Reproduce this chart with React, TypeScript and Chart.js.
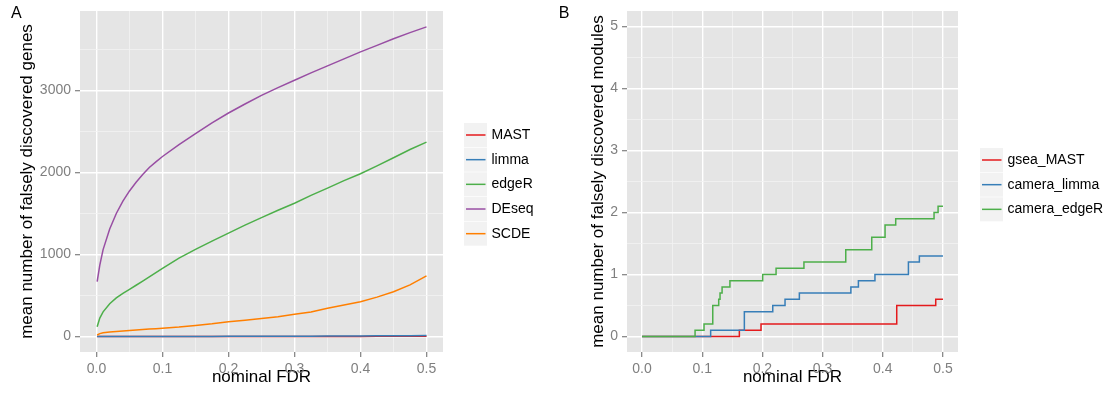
import { useEffect, useRef } from "react";
import { Chart, registerables } from "chart.js";

Chart.register(...registerables);

const FONT_FAMILY = "'Liberation Sans', Arial, Helvetica, sans-serif";
const PANEL_BG = "#e5e5e5";
const KEY_BG = "#f2f2f2";
const TICK_GREY = "#7f7f7f";

// ---- Panel A: mean number of falsely discovered genes vs nominal FDR ----
const geneFdr = [
  0.001, 0.005, 0.01, 0.02, 0.03, 0.04, 0.05, 0.06, 0.07, 0.08, 0.09, 0.1,
  0.125, 0.15, 0.175, 0.2, 0.225, 0.25, 0.275, 0.3, 0.325, 0.35, 0.375, 0.4,
  0.425, 0.45, 0.475, 0.5,
];
const geneMast = [
  0, 0, 0, 0, 0, 0, 0, 0, 0, 0, 0, 0,
  0, 0, 0, 0, 0, 0, 0, 0, 1, 1, 1, 1,
  2, 2, 2, 3,
];
const geneLimma = [
  0, 0, 0, 0, 0, 0, 0, 0, 0, 0, 0, 0,
  0, 1, 1, 2, 2, 3, 3, 4, 4, 5, 6, 7,
  8, 9, 10, 12,
];
const geneEdgeR = [
  120, 225, 300, 400, 470, 525, 575, 625, 675, 727, 780, 832,
  955, 1063, 1163, 1260, 1358, 1450, 1540, 1625, 1720, 1810, 1900, 1985,
  2080, 2180, 2280, 2370,
];
const geneDeseq = [
  670, 870, 1060, 1310, 1500, 1650, 1775, 1880, 1975, 2060, 2130, 2195,
  2340, 2475, 2605, 2725, 2835, 2940, 3035, 3125, 3215, 3300, 3385, 3470,
  3550, 3630, 3705, 3775,
];
const geneScde = [
  18, 35, 45, 55, 62, 68, 74, 80, 85, 90, 95, 100,
  115, 135, 155, 180, 198, 220, 240, 270, 300, 345, 385, 425,
  480, 545, 630, 740,
];
const geneMethods = ["MAST", "limma", "edgeR", "DEseq", "SCDE"];
const geneColors = ["#E41A1C", "#377EB8", "#4DAF4A", "#984EA3", "#FF7F00"];
const geneYMajor = [0, 1000, 2000, 3000];
const geneYMinor = [500, 1500, 2500, 3500];

const fdrMajor = [0, 0.1, 0.2, 0.3, 0.4, 0.5];
const fdrMinor = [0.05, 0.15, 0.25, 0.35, 0.45];

// ---- Panel B: mean number of falsely discovered modules (step curves) ----
// each x is the FDR where the curve jumps to the matching y
const gseaMastFdr = [0, 0.1617, 0.1977, 0.4232, 0.488, 0.5];
const gseaMastCount = [0, 0.1, 0.2, 0.5, 0.6, 0.6];
const cameraLimmaFdr = [0, 0.114, 0.17, 0.2172, 0.2376, 0.2614, 0.347, 0.3595, 0.387, 0.4426, 0.4608, 0.5];
const cameraLimmaCount = [0, 0.1, 0.4, 0.5, 0.6, 0.7, 0.8, 0.9, 1.0, 1.2, 1.3, 1.3];
const cameraEdgeRFdr = [
  0, 0.0881, 0.103, 0.1175, 0.1274, 0.1296, 0.133, 0.146, 0.2005, 0.2227,
  0.269, 0.3385, 0.3817, 0.4038, 0.4215, 0.4852, 0.4919, 0.5,
];
const cameraEdgeRCount = [
  0, 0.1, 0.2, 0.5, 0.6, 0.7, 0.8, 0.9, 1.0, 1.1,
  1.2, 1.4, 1.6, 1.8, 1.9, 2.0, 2.1, 2.1,
];
const moduleMethods = ["gsea_MAST", "camera_limma", "camera_edgeR"];
const moduleColors = ["#E41A1C", "#377EB8", "#4DAF4A"];
const moduleYMajor = [0, 1, 2, 3, 4, 5];
const moduleYMinor = [0.5, 1.5, 2.5, 3.5, 4.5];

type PanelSpec = {
  datasets: any[];
  xRange: [number, number];
  yRange: [number, number];
  yMajor: number[];
  yMinor: number[];
  yFormat: (v: number) => string;
  yTitle: string;
  yAxisWidth: number;
  yTitleOffset: number;
  padRight: number;
  keyX: number;
  keyTopY: number;
  tag: string;
  tagX: number;
};

const near = (list: number[], v: number) => list.some((m) => Math.abs(m - v) < 1e-9);

function gridFor(major: number[]) {
  return {
    display: true,
    drawOnChartArea: true,
    drawTicks: true,
    tickLength: 5,
    tickWidth: 1.2,
    color: (c: any) => (near(major, c.tick?.value) ? "#ffffff" : "#f2f2f2"),
    lineWidth: (c: any) => (near(major, c.tick?.value) ? 1.4 : 0.8),
    tickColor: (c: any) => (near(major, c.tick?.value) ? TICK_GREY : "rgba(0,0,0,0)"),
  };
}

function makeDecor(spec: PanelSpec) {
  return {
    id: "panelDecor",
    beforeDraw(chart: any) {
      const { ctx, chartArea: a } = chart;
      ctx.save();
      ctx.fillStyle = PANEL_BG;
      ctx.fillRect(a.left, a.top, a.right - a.left, a.bottom - a.top);
      ctx.restore();
    },
    afterDraw(chart: any) {
      const { ctx } = chart;
      ctx.save();
      chart.data.datasets.forEach((ds: any, i: number) => {
        const cy = spec.keyTopY + i * 24.67;
        ctx.fillStyle = KEY_BG;
        ctx.fillRect(spec.keyX, cy - 12, 23, 24);
        ctx.strokeStyle = ds.borderColor;
        ctx.lineWidth = 1.5;
        ctx.beginPath();
        ctx.moveTo(spec.keyX + 2, cy);
        ctx.lineTo(spec.keyX + 21.5, cy);
        ctx.stroke();
        ctx.fillStyle = "#000000";
        ctx.font = `14px ${FONT_FAMILY}`;
        ctx.textBaseline = "middle";
        ctx.textAlign = "left";
        ctx.fillText(ds.label, spec.keyX + 27.5, cy);
      });
      ctx.font = `16px ${FONT_FAMILY}`;
      ctx.textBaseline = "alphabetic";
      ctx.fillStyle = "#000000";
      ctx.fillText(spec.tag, spec.tagX, 18.3);
      ctx.restore();
    },
  };
}

function buildConfig(spec: PanelSpec): any {
  const xTicks = [...fdrMajor, ...fdrMinor].sort((a, b) => a - b);
  const yTicks = [...spec.yMajor, ...spec.yMinor].sort((a, b) => a - b);
  return {
    type: "line",
    data: { datasets: spec.datasets },
    options: {
      animation: false,
      responsive: false,
      devicePixelRatio: 1,
      layout: { padding: { left: 0, right: spec.padRight, top: 11, bottom: 0 } },
      plugins: { legend: { display: false }, tooltip: { enabled: false } },
      elements: { point: { radius: 0 }, line: { tension: 0 } },
      scales: {
        x: {
          type: "linear",
          min: spec.xRange[0],
          max: spec.xRange[1],
          border: { display: false },
          grid: gridFor(fdrMajor),
          afterBuildTicks: (s: any) => {
            s.ticks = xTicks.map((value) => ({ value }));
          },
          afterFit: (s: any) => {
            s.height = 45;
            s.paddingLeft = 0;
            s.paddingRight = 0;
            s.paddingTop = 0;
            s.paddingBottom = 0;
          },
          ticks: {
            autoSkip: false,
            maxRotation: 0,
            padding: 4,
            color: TICK_GREY,
            font: { size: 14, family: FONT_FAMILY },
            callback: (v: number) => (near(fdrMajor, v) ? v.toFixed(1) : ""),
          },
          title: {
            display: true,
            text: "nominal FDR",
            color: "#000000",
            font: { size: 17, family: FONT_FAMILY },
            padding: { top: 0, bottom: 9.4 },
          },
        },
        y: {
          type: "linear",
          min: spec.yRange[0],
          max: spec.yRange[1],
          border: { display: false },
          grid: gridFor(spec.yMajor),
          afterBuildTicks: (s: any) => {
            s.ticks = yTicks.map((value) => ({ value }));
          },
          afterFit: (s: any) => {
            s.width = spec.yAxisWidth;
            s.paddingLeft = 0;
            s.paddingRight = 0;
            s.paddingTop = 0;
            s.paddingBottom = 0;
          },
          ticks: {
            autoSkip: false,
            padding: 4,
            color: TICK_GREY,
            font: { size: 14, family: FONT_FAMILY },
            callback: (v: number) => (near(spec.yMajor, v) ? spec.yFormat(v) : ""),
          },
          title: {
            display: true,
            text: spec.yTitle,
            color: "#000000",
            font: { size: 17, family: FONT_FAMILY },
            padding: { top: spec.yTitleOffset, bottom: 0 },
          },
        },
      },
    },
    plugins: [makeDecor(spec)],
  };
}

const geneSeries = [geneMast, geneLimma, geneEdgeR, geneDeseq, geneScde];
const moduleSeries = [
  [gseaMastFdr, gseaMastCount],
  [cameraLimmaFdr, cameraLimmaCount],
  [cameraEdgeRFdr, cameraEdgeRCount],
];

const geneSpec: PanelSpec = {
  datasets: geneMethods.map((label, i) => ({
    label,
    data: geneFdr.map((x, j) => ({ x, y: geneSeries[i][j] })),
    borderColor: geneColors[i],
    backgroundColor: geneColors[i],
    borderWidth: 1.5,
    pointRadius: 0,
    fill: false,
    order: geneMethods.length - i,
  })),
  xRange: [-0.025, 0.525],
  yRange: [-189, 3969],
  yMajor: geneYMajor,
  yMinor: geneYMinor,
  yFormat: (v) => String(v),
  yTitle: "mean number of falsely discovered genes",
  yAxisWidth: 80,
  yTitleOffset: 17.6,
  padRight: 112,
  keyX: 464,
  keyTopY: 135,
  tag: "A",
  tagX: 11,
};

const moduleSpec: PanelSpec = {
  datasets: moduleMethods.map((label, i) => ({
    label,
    data: moduleSeries[i][0].map((x, j) => ({ x, y: moduleSeries[i][1][j] })),
    borderColor: moduleColors[i],
    backgroundColor: moduleColors[i],
    borderWidth: 1.5,
    pointRadius: 0,
    fill: false,
    stepped: "before",
    order: moduleMethods.length - i,
  })),
  xRange: [-0.025, 0.525],
  yRange: [-0.25, 5.25],
  yMajor: moduleYMajor,
  yMinor: moduleYMinor,
  yFormat: (v) => String(v),
  yTitle: "mean number of falsely discovered modules",
  yAxisWidth: 72,
  yTitleOffset: 33.6,
  padRight: 152,
  keyX: 425,
  keyTopY: 160,
  tag: "B",
  tagX: 3.7,
};

export default function App() {
  const refA = useRef<HTMLCanvasElement>(null);
  const refB = useRef<HTMLCanvasElement>(null);

  useEffect(() => {
    Chart.defaults.font.family = FONT_FAMILY;
    const a = new Chart(refA.current!, buildConfig(geneSpec));
    const b = new Chart(refB.current!, buildConfig(moduleSpec));
    return () => {
      a.destroy();
      b.destroy();
    };
  }, []);

  return (
    <div style={{ position: "fixed", left: 0, top: 0, width: 1110, height: 397, background: "#ffffff" }}>
      <canvas
        ref={refA}
        width={555}
        height={397}
        style={{ position: "absolute", left: 0, top: 0, display: "block" }}
      />
      <canvas
        ref={refB}
        width={555}
        height={397}
        style={{ position: "absolute", left: 555, top: 0, display: "block" }}
      />
    </div>
  );
}
